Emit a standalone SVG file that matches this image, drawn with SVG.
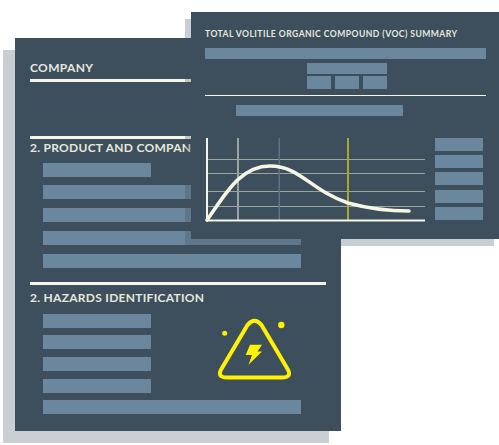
<svg xmlns="http://www.w3.org/2000/svg" width="499" height="445" viewBox="0 0 499 445">
<style>
.panel{fill:#3d4f5c}
.shadow{fill:#3d4f5c;fill-opacity:.28}
.bar{fill:#6b879d}
.rule{fill:#f6f6e6}
.head{font-family:"Lato","Liberation Sans",sans-serif;font-weight:700;font-size:12px;fill:#e6e7dc}
.title{font-family:"Lato","Liberation Sans",sans-serif;font-weight:700;font-size:8.6px;fill:#e6e7dc}
.grid{stroke:#9aa39f;stroke-width:1;fill:none}
</style>
<rect width="499" height="445" fill="#fff"/>
<g id="back-sheet">
<rect class="shadow" x="3" y="50" width="326" height="393"/>
<rect class="panel" x="15" y="38" width="326" height="393"/>
<text class="head" x="30" y="72" textLength="63">COMPANY</text>
<rect class="rule" x="30" y="79" width="296" height="3"/>
<rect class="rule" x="30" y="136" width="296" height="3"/>
<text class="head" x="30" y="152" textLength="161">2. PRODUCT AND COMPAN</text>
<rect class="bar" x="43" y="163" width="108" height="14"/>
<rect class="bar" x="43" y="185" width="258" height="14"/>
<rect class="bar" x="43" y="208" width="258" height="14"/>
<rect class="bar" x="43" y="231" width="258" height="14"/>
<rect class="bar" x="43" y="254" width="258" height="14"/>
<rect class="rule" x="30" y="282" width="296" height="3"/>
<text class="head" x="30" y="302" textLength="174">2. HAZARDS IDENTIFICATION</text>
<rect class="bar" x="43" y="314" width="108" height="14"/>
<rect class="bar" x="43" y="335" width="108" height="14"/>
<rect class="bar" x="43" y="357" width="108" height="14"/>
<rect class="bar" x="43" y="379" width="108" height="14"/>
<rect class="bar" x="43" y="400" width="258" height="14"/>
</g>
<g id="hazard-icon">
<path d="M247.500 325Q254.500 316.500 261.500 325L287 368Q293 377.500 282 377.500L227 377.500Q216 377.500 222 368Z" fill="none" stroke="#fff200" stroke-width="4" stroke-linejoin="round"/>
<path d="M250 344.700H262L257.500 351.500H262L248.500 364.700L252 355H245.700Z" fill="#fff200"/>
<circle cx="224.700" cy="333.300" r="2.500" fill="#fff200"/>
<circle cx="281.300" cy="325" r="3.200" fill="#fff200"/>
</g>
<g id="front-sheet">
<rect class="shadow" x="185" y="19" width="309" height="227"/>
<rect class="panel" x="191" y="12" width="308" height="227"/>
<text class="title" x="205" y="37" textLength="252">TOTAL VOLITILE ORGANIC COMPOUND (VOC) SUMMARY</text>
<rect class="bar" x="205" y="48" width="281" height="11"/>
<rect class="bar" x="307" y="63" width="80" height="11"/>
<rect class="bar" x="307" y="76" width="24" height="13"/>
<rect class="bar" x="335" y="76" width="24" height="13"/>
<rect class="bar" x="363" y="76" width="24" height="13"/>
<rect x="205" y="95" width="281" height="1" fill="#f6f6e6"/>
<rect class="bar" x="236" y="105" width="167" height="11"/>
<rect class="bar" x="435" y="138" width="48" height="13"/>
<rect class="bar" x="435" y="155" width="48" height="13"/>
<rect class="bar" x="435" y="172" width="48" height="13"/>
<rect class="bar" x="435" y="190" width="48" height="13"/>
<rect class="bar" x="435" y="207" width="48" height="13"/>
</g>
<g id="chart">
<path class="grid" d="M208 159.500H425M208 173.500H425M208 191.500H425M208 206.500H425"/>
<rect x="237" y="138" width="2" height="82" fill="#9aa39f"/>
<rect x="278.500" y="138" width="1.500" height="82" fill="#5f7283"/>
<rect x="347" y="138" width="2" height="82" fill="#a8a82c"/>
<rect x="206" y="138" width="2" height="83" fill="#f6f6e6"/>
<rect x="206" y="219.500" width="219" height="2" fill="#f6f6e6"/>
<path d="M207 220C225 195 240 166 270 166C300 166 310 190 348 203C370 209 390 211 409 211" fill="none" stroke="#f6f6e6" stroke-width="3.600" stroke-linecap="round"/>
</g>
</svg>
